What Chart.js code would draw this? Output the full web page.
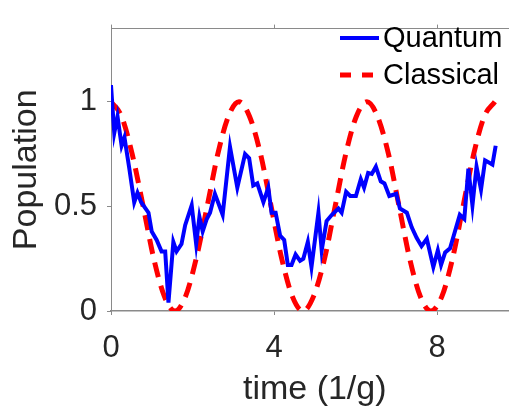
<!DOCTYPE html>
<html>
<head>
<meta charset="utf-8">
<script src="https://cdn.jsdelivr.net/npm/chart.js@4.4.1/dist/chart.umd.min.js"></script>
<style>
  html, body { margin: 0; padding: 0; background: #fff; overflow: hidden; }
  #wrap { width: 509px; height: 407px; overflow: hidden; position: relative; }
  #box { width: 530px; height: 407px; position: absolute; left: 0; top: 0; }
</style>
</head>
<body>
<div id="wrap"><div id="box"><canvas id="myChart"></canvas></div></div>
<script>
// quantum population
var quantumT = [0, 0.08, 0.16, 0.26, 0.33, 0.45, 0.57, 0.65, 0.74, 0.92, 1.0, 1.12, 1.24, 1.33, 1.41, 1.53, 1.61, 1.73,
  1.82, 1.98, 2.09, 2.17, 2.25, 2.35, 2.43, 2.55, 2.74, 2.92, 3.1, 3.29, 3.39, 3.49, 3.59, 3.74, 3.86, 3.94, 4.04,
  4.15, 4.25, 4.34, 4.43, 4.53, 4.64, 4.72, 4.83, 4.92, 5.09, 5.17, 5.29, 5.42, 5.58, 5.66, 5.77, 5.87, 6.01, 6.13,
  6.21, 6.31, 6.40, 6.50, 6.62, 6.71, 6.83, 7.0, 7.09, 7.26, 7.38, 7.50, 7.62, 7.75, 7.91, 8.02, 8.10, 8.20, 8.32,
  8.44, 8.56, 8.67, 8.77, 8.87, 8.97, 9.08, 9.18, 9.36, 9.44];
var quantumY = [1.08, 0.85, 0.93, 0.79, 0.83, 0.68, 0.52, 0.565, 0.52, 0.47, 0.38, 0.34, 0.285, 0.285, 0.04, 0.33, 0.285, 0.32,
  0.41, 0.505, 0.32, 0.45, 0.38, 0.44, 0.47, 0.56, 0.46, 0.785, 0.59, 0.75, 0.73, 0.60, 0.61, 0.52, 0.59, 0.47, 0.47,
  0.36, 0.34, 0.22, 0.22, 0.27, 0.24, 0.25, 0.33, 0.21, 0.47, 0.29, 0.43, 0.46, 0.49, 0.47, 0.57, 0.55, 0.55, 0.63,
  0.59, 0.66, 0.655, 0.69, 0.62, 0.61, 0.55, 0.56, 0.49, 0.47, 0.40, 0.35, 0.31, 0.345, 0.21, 0.29, 0.22, 0.28, 0.30,
  0.38, 0.46, 0.44, 0.68, 0.505, 0.69, 0.58, 0.72, 0.70, 0.79];

// classical population
var classicalT = [0, 0.26, 0.52, 0.79, 1.05, 1.31, 1.57, 1.83, 2.09, 2.36, 2.62, 2.88, 3.14, 3.40, 3.67, 3.93, 4.19,
  4.45, 4.71, 4.97, 5.24, 5.50, 5.76, 6.02, 6.28, 6.54, 6.81, 7.07, 7.33, 7.59, 7.85, 8.12, 8.38, 8.64, 8.90, 9.16, 9.42];
var classicalY = [1, 0.93, 0.75, 0.5, 0.25, 0.07, 0, 0.07, 0.25, 0.5, 0.75, 0.93, 1, 0.93, 0.75, 0.5, 0.25,
  0.07, 0, 0.07, 0.25, 0.5, 0.75, 0.93, 1, 0.93, 0.75, 0.5, 0.25, 0.07, 0, 0.07, 0.25, 0.5, 0.75, 0.93, 1];

var xTicks = [0, 4, 8];
var yTicks = [0, 0.5, 1];

var FONT = "'Liberation Sans', Arial, Helvetica, sans-serif";
var TEXT = "#262626";
var AXIS = "#8a8a8a";

function pts(xs, ys) {
  return xs.map(function (x, i) { return { x: x, y: ys[i] }; });
}

// legend drawn in the upper right corner of the plot
var cornerLegend = {
  id: "cornerLegend",
  afterDraw: function (chart) {
    var ctx = chart.ctx;
    var rows = [38, 75];
    ctx.save();
    chart.data.datasets.forEach(function (ds, i) {
      var y = rows[i];
      ctx.beginPath();
      ctx.strokeStyle = ds.borderColor;
      ctx.lineWidth = ds.borderWidth;
      ctx.setLineDash(ds.borderDash ? [11, 11] : []);
      ctx.moveTo(340, y);
      ctx.lineTo(379, y);
      ctx.stroke();
      ctx.setLineDash([]);
      ctx.fillStyle = "#000";
      ctx.font = "29px " + FONT;
      ctx.textBaseline = "middle";
      ctx.textAlign = "left";
      ctx.fillText(ds.label, 383, y + 1);
    });
    ctx.restore();
  }
};

var ctx = document.getElementById("myChart").getContext("2d");
var chart = new Chart(ctx, {
  type: "line",
  data: {
    datasets: [
      {
        label: "Quantum",
        data: pts(quantumT, quantumY),
        borderColor: "#0000ff",
        borderWidth: 4,
        pointRadius: 0,
        tension: 0,
        fill: false
      },
      {
        label: "Classical",
        data: pts(classicalT, classicalY),
        borderColor: "#ff0000",
        borderWidth: 5,
        borderDash: [15, 9],
        pointRadius: 0,
        cubicInterpolationMode: "monotone",
        fill: false
      }
    ]
  },
  options: {
    responsive: true,
    maintainAspectRatio: false,
    animation: false,
    layout: { padding: { left: 0, top: 0, right: 11.5, bottom: 0 } },
    plugins: {
      legend: { display: false },
      tooltip: { enabled: false }
    },
    scales: {
      x: {
        type: "linear",
        position: "bottom",
        min: 0,
        max: 10,
        afterBuildTicks: function (scale) {
          scale.ticks = xTicks.map(function (v) { return { value: v }; });
        },
        afterFit: function (scale) { scale.height = 96; },
        border: { display: true, color: AXIS, width: 1.5 },
        grid: { drawOnChartArea: false, drawTicks: true, tickLength: 4, color: AXIS },
        ticks: {
          color: TEXT,
          font: { family: FONT, size: 31 },
          padding: 15,
          maxRotation: 0,
          callback: function (v) { return String(v); }
        },
        title: {
          display: true,
          text: "time (1/g)",
          color: TEXT,
          font: { family: FONT, size: 34, lineHeight: 1 },
          padding: { top: 0, bottom: 0 }
        }
      },
      xTop: {
        type: "linear",
        position: "top",
        min: 0,
        max: 10,
        afterBuildTicks: function (scale) {
          scale.ticks = xTicks.map(function (v) { return { value: v }; });
        },
        afterFit: function (scale) { scale.height = 14; },
        border: { display: true, color: AXIS, width: 1 },
        grid: { drawOnChartArea: false, drawTicks: true, tickLength: 4, color: AXIS },
        ticks: { display: false }
      },
      y: {
        type: "linear",
        min: 0,
        max: 1.35,
        afterBuildTicks: function (scale) {
          scale.ticks = yTicks.map(function (v) { return { value: v }; });
        },
        afterFit: function (scale) { scale.width = 111; },
        border: { display: true, color: AXIS, width: 1 },
        grid: { drawOnChartArea: false, drawTicks: true, tickLength: 4, color: AXIS },
        ticks: {
          color: TEXT,
          font: { family: FONT, size: 31 },
          padding: 10,
          callback: function (v) { return String(v); }
        },
        title: {
          display: true,
          text: "Population",
          color: TEXT,
          font: { family: FONT, size: 34, lineHeight: 1 },
          padding: { top: 10, bottom: 0 }
        }
      }
    }
  },
  plugins: [cornerLegend]
});
</script>
</body>
</html>
